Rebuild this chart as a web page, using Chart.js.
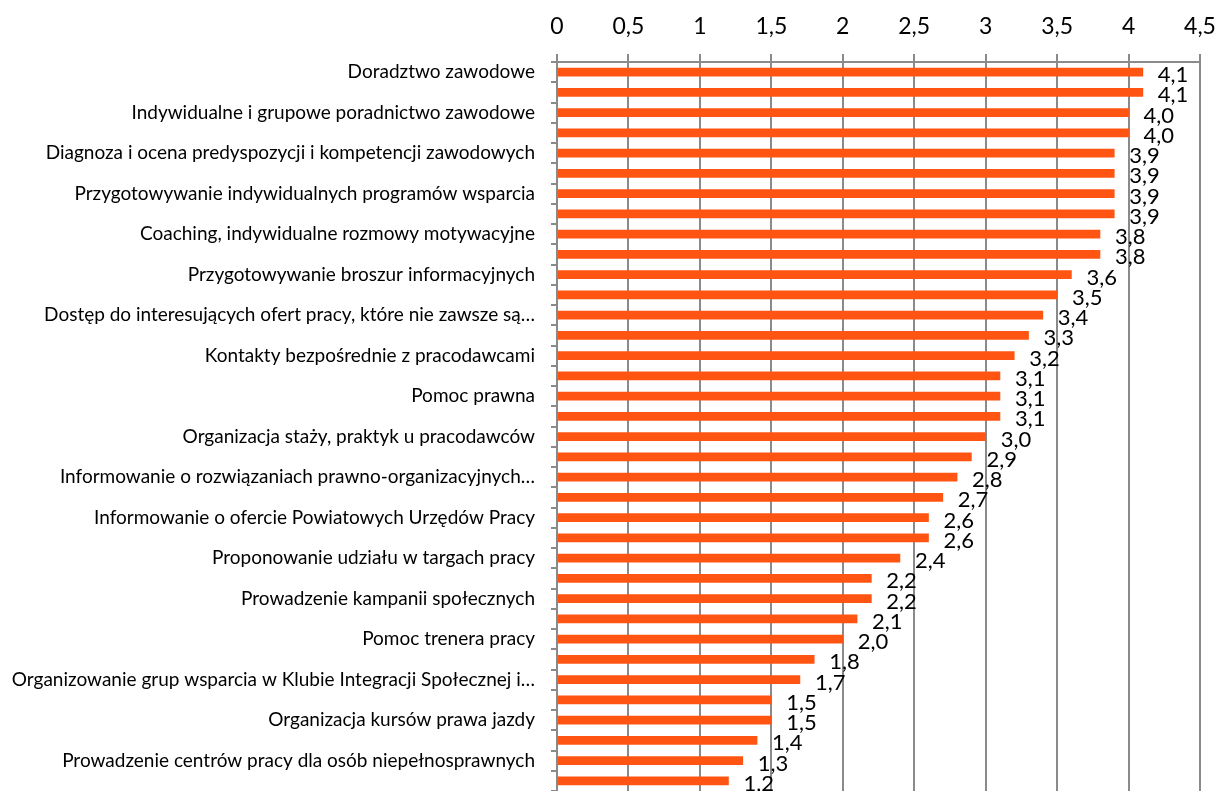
<!DOCTYPE html>
<html>
<head>
<meta charset="utf-8">
<script src="https://cdn.jsdelivr.net/npm/chart.js@4"></script>
<style>
    html, body { margin: 0; padding: 0; background: #fff; }
    #box { width: 1218px; height: 791px; }
</style>
</head>
<body>
<div id="box"><canvas id="grafico" width="1218" height="791"></canvas></div>
<script>
// kategorie (widoczne co druga etykieta, jak w oryginale)
const kategorie = [
    "Doradztwo zawodowe", "",
    "Indywidualne i grupowe poradnictwo zawodowe", "",
    "Diagnoza i ocena predyspozycji i kompetencji zawodowych", "",
    "Przygotowywanie indywidualnych programów wsparcia", "",
    "Coaching, indywidualne rozmowy motywacyjne", "",
    "Przygotowywanie broszur informacyjnych", "",
    "Dostęp do interesujących ofert pracy, które nie zawsze są…", "",
    "Kontakty bezpośrednie z pracodawcami", "",
    "Pomoc prawna", "",
    "Organizacja staży, praktyk u pracodawców", "",
    "Informowanie o rozwiązaniach prawno-organizacyjnych…", "",
    "Informowanie o ofercie Powiatowych Urzędów Pracy", "",
    "Proponowanie udziału w targach pracy", "",
    "Prowadzenie kampanii społecznych", "",
    "Pomoc trenera pracy", "",
    "Organizowanie grup wsparcia w Klubie Integracji Społecznej i…", "",
    "Organizacja kursów prawa jazdy", "",
    "Prowadzenie centrów pracy dla osób niepełnosprawnych", ""
];

const oceny = [
    4.1, 4.1, 4.0, 4.0, 3.9, 3.9, 3.9, 3.9, 3.8, 3.8,
    3.6, 3.5, 3.4, 3.3, 3.2, 3.1, 3.1, 3.1, 3.0, 2.9,
    2.8, 2.7, 2.6, 2.6, 2.4, 2.2, 2.2, 2.1, 2.0, 1.8,
    1.7, 1.5, 1.5, 1.4, 1.3, 1.2
];

const osMin = 0;
const osMax = 4.5;
const osKrok = 0.5;

const SZARY = "#8a8a8a";
const POMARANCZ = "#FF5412";
const FONT = "Lato";

// etykiety wartosci przy slupkach
const etykietyWartosci = {
    id: "etykietyWartosci",
    afterDatasetsDraw(chart) {
        const ctx = chart.ctx;
        const meta = chart.getDatasetMeta(0);
        ctx.save();
        ctx.font = "22px " + FONT;
        ctx.fillStyle = "#000";
        ctx.textAlign = "left";
        ctx.textBaseline = "middle";
        meta.data.forEach((bar, i) => {
            const txt = oceny[i].toFixed(1).replace(".", ",");
            ctx.fillText(txt, bar.x + 15, bar.y + 3);
        });
        ctx.restore();
    }
};

new Chart(document.getElementById("grafico"), {
    type: "bar",
    data: {
        labels: kategorie,
        datasets: [{
            data: oceny,
            backgroundColor: POMARANCZ,
            borderWidth: 0,
            barThickness: 8
        }]
    },
    options: {
        indexAxis: "y",
        responsive: false,
        animation: false,
        layout: { padding: { top: 0, left: 0, right: 18, bottom: 0 } },
        plugins: {
            legend: { display: false },
            tooltip: { enabled: false }
        },
        scales: {
            x: {
                position: "top",
                min: osMin,
                max: osMax,
                ticks: {
                    stepSize: osKrok,
                    color: "#000",
                    padding: 14,
                    font: { family: FONT, size: 23 },
                    callback: v => String(v).replace(".", ",")
                },
                grid: { color: SZARY, lineWidth: 2, tickLength: 8 },
                border: { color: SZARY, width: 2 },
                afterFit: s => {
                    s.height = 62;
                    s.paddingLeft = 0;
                    s.paddingRight = 0;
                }
            },
            y: {
                ticks: {
                    autoSkip: false,
                    color: "#000",
                    padding: 16,
                    font: { family: FONT, size: 19 }
                },
                grid: { color: SZARY, lineWidth: 2, drawOnChartArea: false, tickLength: 6 },
                border: { color: SZARY, width: 2 },
                afterFit: s => {
                    s.width = 557;
                    s.paddingTop = 0;
                    s.paddingBottom = 0;
                }
            }
        }
    },
    plugins: [etykietyWartosci]
});
</script>
</body>
</html>
